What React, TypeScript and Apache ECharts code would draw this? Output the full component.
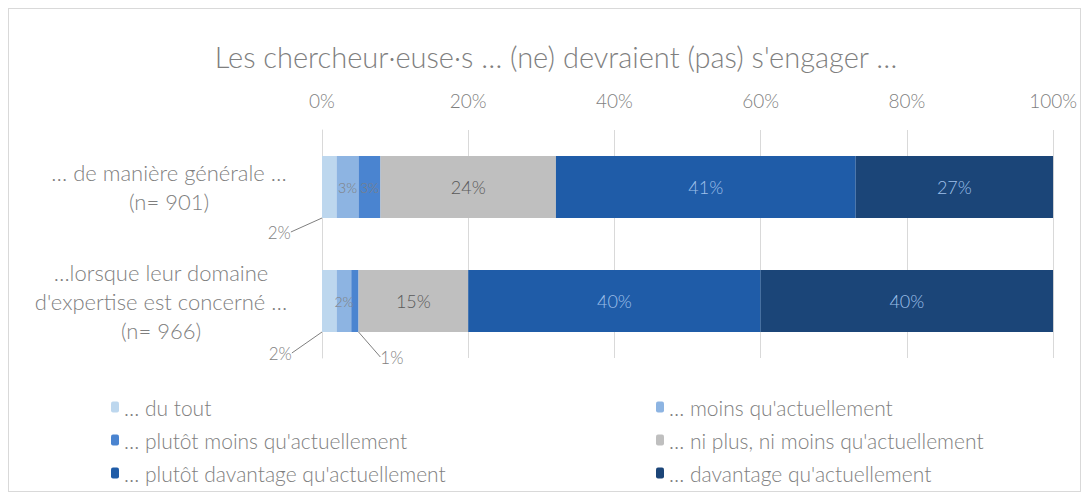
import React, { useEffect, useRef } from "react";
import * as echarts from "echarts";

const categories = [
  "… de manière générale …\n(n= 901)",
  "…lorsque leur domaine\nd'expertise est concerné …\n(n= 966)",
];
const seriesNames = [
  "… du tout",
  "… moins qu'actuellement",
  "… plutôt moins qu'actuellement",
  "… ni plus, ni moins qu'actuellement",
  "… plutôt davantage qu'actuellement",
  "… davantage qu'actuellement",
];
const duTout = [2, 2];
const moins = [3, 2];
const plutotMoins = [3, 1];
const niPlus = [24, 15];
const plutotDavantage = [41, 40];
const davantage = [27, 40];
const xTicks = [0, 20, 40, 60, 80, 100];

const values = [duTout, moins, plutotMoins, niPlus, plutotDavantage, davantage];
const colors = ["#bdd7ee", "#8db4e2", "#4a84d0", "#bfbfbf", "#1f5ca8", "#1b4578"];
const labelColors = ["#7f7f7f", "#7f7f7f", "#7f7f7f", "#595959", "#9fc0ea", "#9fc0ea"];

// label offsets for outside labels: [seriesIndex-dataIndex] -> [dx, dy]
const outsideLabels: Record<string, [number, number]> = {
  "0-0": [-50, 45],
  "0-1": [-49, 52],
  "2-1": [37, 56],
};

export default function App() {
  const ref = useRef<HTMLDivElement>(null);
  useEffect(() => {
    if (!ref.current) return;
    const chart = echarts.init(ref.current, undefined, { renderer: "svg" });
    const font = "Lato";
    const fw = 300;
    const gray = "#7f7f7f";
    const series = seriesNames.map((name, si) => ({
      name,
      type: "bar",
      stack: "total",
      barWidth: 62,
      itemStyle: { color: colors[si] },
      data: values[si].map((v, di) => {
        const out = outsideLabels[`${si}-${di}`];
        if (out) return { value: v, label: { color: gray, fontSize: 17 } };
        if (v < 5) return { value: v, label: { fontSize: 14 } };
        return { value: v };
      }),
      label: {
        show: true,
        position: "inside",
        formatter: "{c}%",
        color: labelColors[si],
        fontFamily: font,
        fontWeight: fw,
        fontSize: 18,
      },
      labelLine: { show: true, lineStyle: { color: "#7f7f7f", width: 1 } },
      labelLayout: (params: any) => {
        const out = outsideLabels[`${params.seriesIndex}-${params.dataIndex}`];
        if (out) return { dx: out[0], dy: out[1] };
        return {};
      },
    }));

    const legendText = { color: gray, fontSize: 21, lineHeight: 22, fontFamily: font, fontWeight: fw };
    const richBase = { align: "center", fontSize: 22, color: gray, lineHeight: 29, fontFamily: font, fontWeight: fw };
    chart.setOption({
      animation: false,
      textStyle: { fontFamily: font },
      title: {
        text: "Les chercheur·euse·s … (ne) devraient (pas) s'engager …",
        left: 542,
        textAlign: "center",
        top: 28,
        textStyle: { color: gray, fontSize: 29, fontWeight: fw, fontFamily: font },
      },
      grid: { left: 313, right: 17, top: 121, height: 228, containLabel: false },
      xAxis: {
        type: "value",
        position: "top",
        min: 0,
        max: 100,
        interval: 20,
        axisLine: { show: false },
        axisTick: { show: false },
        splitLine: { show: true, lineStyle: { color: "#d9d9d9" } },
        axisLabel: {
          color: gray,
          fontSize: 19,
          margin: 20,
          fontFamily: font,
          fontWeight: fw,
          formatter: (v: number) => (xTicks.includes(v) ? `${v}%` : ""),
        },
      },
      yAxis: {
        type: "category",
        inverse: true,
        data: categories,
        axisLine: { show: true, lineStyle: { color: "#d9d9d9" } },
        axisTick: { show: false },
        axisLabel: {
          margin: 24,
          fontSize: 22,
          color: gray,
          formatter: (v: string, i: number) => {
            const st = i === 0 ? "a" : "b";
            return v
              .split("\n")
              .map((l) => `{${st}|${l}}`)
              .join("\n");
          },
          rich: {
            a: { ...richBase, width: 258 },
            b: { ...richBase, width: 274 },
          },
        },
      },
      legend: [
        {
          orient: "vertical",
          left: 97,
          top: 382,
          height: 110,
          itemWidth: 8,
          itemHeight: 11,
          itemGap: 11,
          data: [seriesNames[0], seriesNames[2], seriesNames[4]],
          textStyle: legendText,
        },
        {
          orient: "vertical",
          left: 642,
          top: 382,
          height: 110,
          itemWidth: 8,
          itemHeight: 11,
          itemGap: 11,
          data: [seriesNames[1], seriesNames[3], seriesNames[5]],
          textStyle: legendText,
        },
      ],
      series,
    });
    return () => chart.dispose();
  }, []);
  return (
    <div
      style={{
        width: 1073,
        height: 484,
        border: "1px solid #d9d9d9",
        boxSizing: "border-box",
        background: "#fff",
      }}
    >
      <div ref={ref} style={{ width: 1071, height: 482 }} />
    </div>
  );
}
